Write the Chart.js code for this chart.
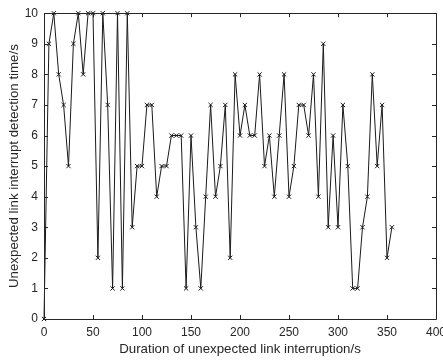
<!DOCTYPE html>
<html>
<head>
<meta charset="utf-8">
<script src="https://cdn.jsdelivr.net/npm/chart.js@4/dist/chart.umd.min.js"></script>
<style>
  html, body { margin: 0; padding: 0; background: #fff; overflow: hidden; }
  #wrap { width: 443px; height: 360px; }
</style>
</head>
<body>
<div id="wrap"><canvas id="grafico"></canvas></div>
<script>
// Dados (duração em s, tempo de detecção em s)
const duracoes = [0, 5, 10, 15, 20, 25, 30, 35, 40, 45, 50, 55, 60, 65, 70, 75, 80, 85, 90, 95,
    100, 105, 110, 115, 120, 125, 130, 135, 140, 145, 150, 155, 160, 165, 170, 175, 180, 185, 190, 195,
    200, 205, 210, 215, 220, 225, 230, 235, 240, 245, 250, 255, 260, 265, 270, 275, 280, 285, 290, 295,
    300, 305, 310, 315, 320, 325, 330, 335, 340, 345, 350, 355];
const temposDeteccao = [0, 9, 10, 8, 7, 5, 9, 10, 8, 10, 10, 2, 10, 7, 1, 10, 1, 10, 3, 5,
    5, 7, 7, 4, 5, 5, 6, 6, 6, 1, 6, 3, 1, 4, 7, 4, 5, 7, 2, 8,
    6, 7, 6, 6, 8, 5, 6, 4, 6, 8, 4, 5, 7, 7, 6, 8, 4, 9, 3, 6,
    3, 7, 5, 1, 1, 3, 4, 8, 5, 7, 2, 3];
const ticksX = [0, 50, 100, 150, 200, 250, 300, 350, 400];
const ticksY = [0, 1, 2, 3, 4, 5, 6, 7, 8, 9, 10];

const corEixo = '#262626';
const fonte = { family: '"Liberation Sans", Arial, sans-serif', size: 12 };
const fonteTitulo = { family: '"Liberation Sans", Arial, sans-serif', size: 13.3 };

// Caixa estilo MATLAB com ticks para dentro nos quatro lados
const caixaEixos = {
    id: 'caixaEixos',
    afterDraw(chart) {
        const { ctx, chartArea: a, scales: { x, y } } = chart;
        const t = 4;
        ctx.save();
        ctx.strokeStyle = corEixo;
        ctx.lineWidth = 1;
        ctx.beginPath();
        ctx.rect(Math.round(a.left) + 0.5, Math.round(a.top) + 0.5,
            Math.round(a.right - a.left), Math.round(a.bottom - a.top));
        ticksX.forEach(v => {
            const px = Math.round(x.getPixelForValue(v)) + 0.5;
            ctx.moveTo(px, a.bottom); ctx.lineTo(px, a.bottom - t);
            ctx.moveTo(px, a.top); ctx.lineTo(px, a.top + t);
        });
        ticksY.forEach(v => {
            const py = Math.round(y.getPixelForValue(v)) + 0.5;
            ctx.moveTo(a.left, py); ctx.lineTo(a.left + t, py);
            ctx.moveTo(a.right, py); ctx.lineTo(a.right - t, py);
        });
        ctx.stroke();
        ctx.restore();
    }
};

new Chart(document.getElementById('grafico'), {
    type: 'line',
    data: {
        datasets: [{
            data: duracoes.map((d, i) => ({ x: d, y: temposDeteccao[i] })),
            borderColor: '#1a1a1a',
            borderWidth: 1,
            pointStyle: 'crossRot',
            pointRadius: 3,
            pointBorderColor: '#1a1a1a',
            pointBorderWidth: 1,
            tension: 0,
            fill: false,
            clip: false
        }]
    },
    options: {
        responsive: true,
        maintainAspectRatio: false,
        animation: false,
        layout: { padding: { top: 10, right: 7, bottom: 0, left: 0 } },
        plugins: { legend: { display: false }, tooltip: { enabled: false } },
        scales: {
            x: {
                type: 'linear',
                min: 0, max: 400,
                afterBuildTicks: s => { s.ticks = ticksX.map(v => ({ value: v })); },
                afterFit: s => { s.height = 41; s.paddingRight = 0; s.paddingLeft = 0; },
                grid: { display: false, drawTicks: false },
                border: { display: false },
                ticks: { color: corEixo, font: fonte, padding: 6, maxRotation: 0, autoSkip: false },
                title: { display: true, text: 'Duration of unexpected link interruption/s', color: corEixo, font: fonteTitulo, padding: { top: 0, bottom: 3 } }
            },
            y: {
                type: 'linear',
                min: 0, max: 10,
                afterBuildTicks: s => { s.ticks = ticksY.map(v => ({ value: v })); },
                afterFit: s => { s.width = 44; },
                grid: { display: false, drawTicks: false },
                border: { display: false },
                ticks: { color: corEixo, font: fonte, padding: 6, autoSkip: false },
                title: { display: true, text: 'Unexpected link interrupt detection time/s', color: corEixo, font: fonteTitulo, padding: { top: 6, bottom: 0 } }
            }
        }
    },
    plugins: [caixaEixos]
});
</script>
</body>
</html>
